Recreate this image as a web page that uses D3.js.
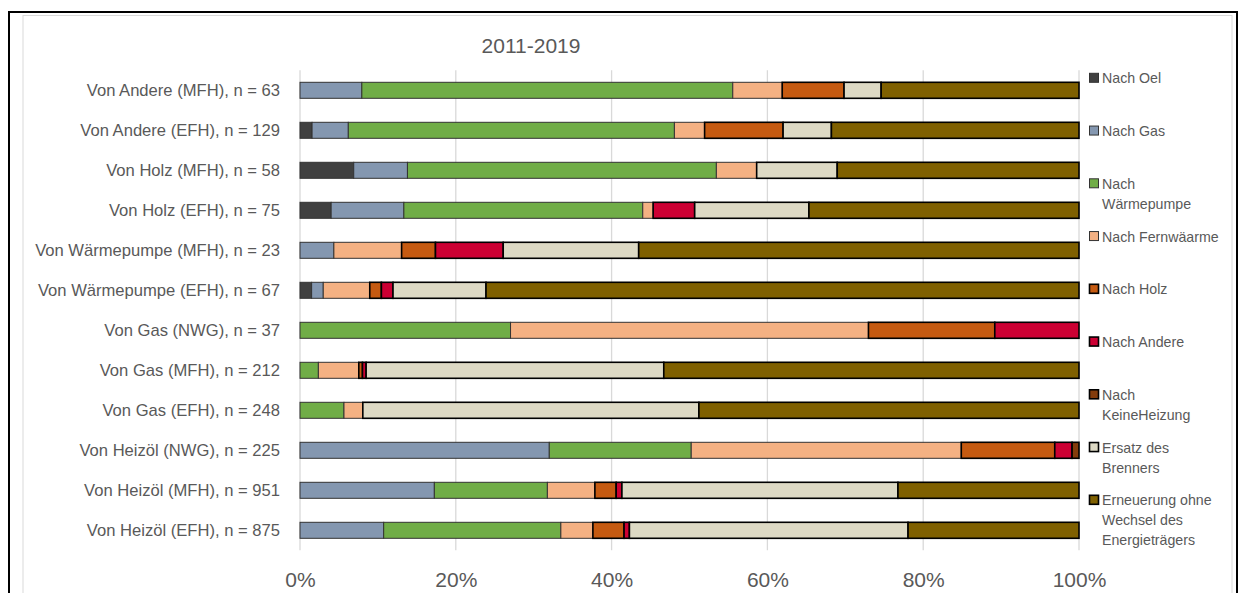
<!DOCTYPE html>
<html>
<head>
<meta charset="utf-8">
<script src="https://cdn.jsdelivr.net/npm/d3@7"></script>
<style>
  html, body { margin: 0; padding: 0; background: #fff; }
  svg { display: block; font-family: "Liberation Sans", Arial, sans-serif; }
</style>
</head>
<body>
<svg id="chart" width="1250" height="593"></svg>
<script>
// Heating system replacements 2011-2019: counts per origin group (top to bottom)
const categories = [
  "Von Andere (MFH)", "Von Andere (EFH)", "Von Holz (MFH)", "Von Holz (EFH)",
  "Von Wärmepumpe (MFH)", "Von Wärmepumpe (EFH)", "Von Gas (NWG)", "Von Gas (MFH)",
  "Von Gas (EFH)", "Von Heizöl (NWG)", "Von Heizöl (MFH)", "Von Heizöl (EFH)"
];
const sampleSizes = [63, 129, 58, 75, 23, 67, 37, 212, 248, 225, 951, 875];

const nachOel        = [0, 2, 4, 3, 0, 1, 0, 0, 0, 0, 0, 0];
const nachGas        = [5, 6, 4, 7, 1, 1, 0, 0, 0, 72, 164, 94];
const nachWaermepumpe= [30, 54, 23, 23, 0, 0, 10, 5, 14, 41, 138, 199];
const nachFernwaerme = [4, 5, 3, 1, 2, 4, 17, 11, 6, 78, 58, 36];
const nachHolz       = [5, 13, 0, 0, 1, 1, 6, 1, 0, 27, 26, 35];
const nachAndere     = [0, 0, 0, 4, 2, 1, 4, 1, 0, 5, 7, 6];
const nachKeine      = [0, 0, 0, 0, 0, 0, 0, 0, 0, 2, 0, 0];
const ersatzBrenner  = [3, 8, 6, 11, 4, 8, 0, 81, 107, 0, 337, 313];
const erneuerung     = [16, 41, 18, 26, 13, 51, 0, 113, 121, 0, 221, 192];

const seriesNames = [
  "Nach Oel", "Nach Gas", "Nach Wärmepumpe", "Nach Fernwäarme", "Nach Holz",
  "Nach Andere", "Nach KeineHeizung", "Ersatz des Brenners",
  "Erneuerung ohne Wechsel des Energieträgers"
];
const seriesValues = [nachOel, nachGas, nachWaermepumpe, nachFernwaerme, nachHolz,
  nachAndere, nachKeine, ersatzBrenner, erneuerung];
const legendLines = [
  ["Nach Oel"], ["Nach Gas"], ["Nach", "Wärmepumpe"], ["Nach Fernwäarme"], ["Nach Holz"],
  ["Nach Andere"], ["Nach", "KeineHeizung"], ["Ersatz des", "Brenners"],
  ["Erneuerung ohne", "Wechsel des", "Energieträgers"]
];
const xTicks = [0, 0.2, 0.4, 0.6, 0.8, 1];

const colors = ["#404040", "#8497B0", "#70AD47", "#F4B183", "#C55A11",
  "#CC0033", "#843C0C", "#DDD9C4", "#7F6000"];
// thin grey outline for the first four series, heavier black outline for the rest
const strokes = ["#333333", "#333333", "#333333", "#333333", "#000", "#000", "#000", "#000", "#000"];
const strokeW = [1, 1, 1, 1, 1.6, 1.6, 1.6, 1.6, 1.6];

const rows = categories.map((c, i) => {
  const r = { cat: c };
  seriesNames.forEach((s, k) => { r[s] = seriesValues[k][i]; });
  return r;
});

const stack = d3.stack().keys(seriesNames).offset(d3.stackOffsetExpand);
const layers = stack(rows);

const svg = d3.select("#chart");
const textColor = "#595959";

// frame
svg.append("rect").attr("x", 9).attr("y", 12).attr("width", 1228).attr("height", 620)
  .attr("fill", "none").attr("stroke", "#000").attr("stroke-width", 2);
svg.append("rect").attr("x", 23).attr("y", 15.5).attr("width", 1209).attr("height", 620)
  .attr("fill", "none").attr("stroke", "#d9d9d9").attr("stroke-width", 1);

const x = d3.scaleLinear().domain([0, 1]).range([300, 1079]);
const y = d3.scaleBand().domain(categories).range([70.3, 550.3])
  .paddingInner(0.6).paddingOuter(0.3);

// gridlines
svg.append("g").selectAll("line").data(xTicks).join("line")
  .attr("x1", d => x(d)).attr("x2", d => x(d))
  .attr("y1", 70.3).attr("y2", 550.3)
  .attr("stroke", "#d9d9d9").attr("stroke-width", 1.3);

// bars
const gLayers = svg.append("g").selectAll("g").data(layers).join("g")
  .attr("fill", (d, i) => colors[i])
  .attr("stroke", (d, i) => strokes[i])
  .attr("stroke-width", (d, i) => strokeW[i]);

gLayers.selectAll("rect")
  .data(d => d.filter(p => p[1] - p[0] > 0))
  .join("rect")
  .attr("x", p => x(p[0]))
  .attr("width", p => x(p[1]) - x(p[0]))
  .attr("y", p => y(p.data.cat))
  .attr("height", y.bandwidth());

// y axis labels
const yAxis = d3.axisLeft(y).tickSize(0).tickPadding(20)
  .tickFormat((d, i) => `${d}, n = ${sampleSizes[i]}`);
const gy = svg.append("g").attr("transform", "translate(300,0)").call(yAxis);
gy.select(".domain").remove();
gy.selectAll("text").attr("fill", textColor).style("font-size", "16.6px")
  .style("font-family", "'Liberation Sans', Arial, sans-serif");

// x axis labels
const xAxis = d3.axisBottom(x).tickValues(xTicks).tickSize(0).tickPadding(22)
  .tickFormat(d3.format(".0%"));
const gx = svg.append("g").attr("transform", "translate(0,550)").call(xAxis);
gx.select(".domain").remove();
gx.selectAll("text").attr("fill", textColor).style("font-size", "21px")
  .style("font-family", "'Liberation Sans', Arial, sans-serif");

// title
svg.append("text").attr("x", 531).attr("y", 53).attr("text-anchor", "middle")
  .attr("fill", textColor).style("font-size", "21px").text("2011-2019");

// legend
const legend = svg.append("g").selectAll("g").data(seriesNames).join("g")
  .attr("transform", (d, i) => `translate(1089.5, ${78.3 + i * 52.75})`);
legend.append("rect").attr("x", 0).attr("y", -5).attr("width", 9).attr("height", 9)
  .attr("fill", (d, i) => colors[i])
  .attr("stroke", (d, i) => strokes[i])
  .attr("stroke-width", (d, i) => strokeW[i]);
legend.append("text")
  .attr("x", 12.5).attr("y", 0)
  .attr("fill", textColor).style("font-size", "14.2px")
  .selectAll("tspan").data((d, i) => legendLines[i]).join("tspan")
  .attr("x", 12.5).attr("dy", (d, j) => j === 0 ? "0.35em" : "20px")
  .text(d => d);
</script>
</body>
</html>
